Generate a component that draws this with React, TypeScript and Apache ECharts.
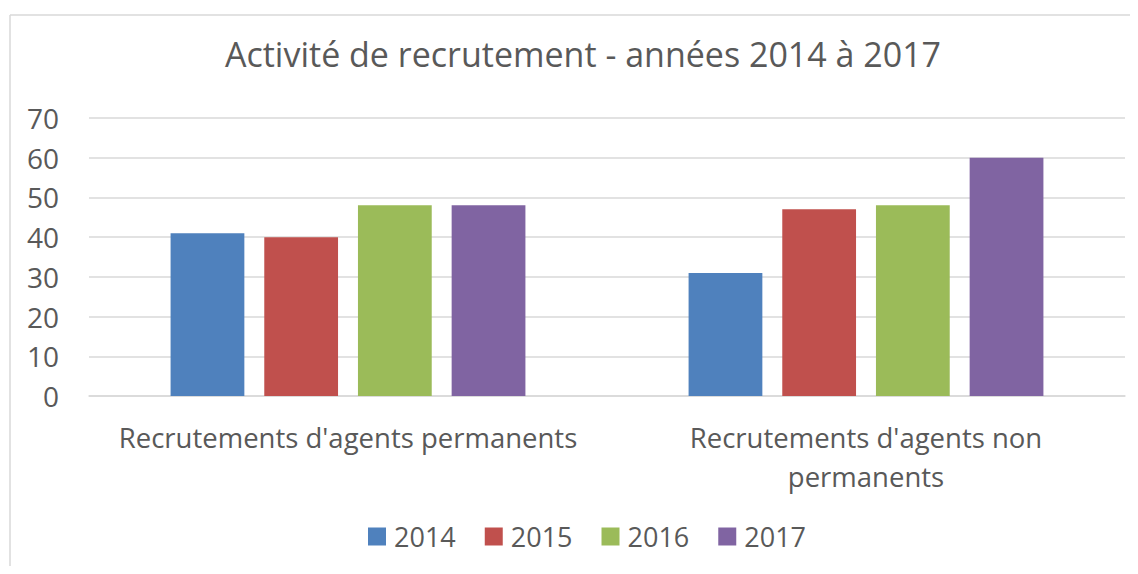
import React, { useEffect, useRef } from "react";
import * as echarts from "echarts";

const categories = ["Recrutements d'agents permanents", "Recrutements d'agents non\npermanents"];
const years = ["2014", "2015", "2016", "2017"];
const values2014 = [41, 31];
const values2015 = [40, 47];
const values2016 = [48, 48];
const values2017 = [48, 60];
const colors = ["#4F81BD", "#C0504D", "#9BBB59", "#8064A2"];
const FONT = "'Open Sans', sans-serif";

export default function App() {
  const ref = useRef<HTMLDivElement>(null);
  useEffect(() => {
    if (!ref.current) return;
    const chart = echarts.init(ref.current, null, { renderer: "svg" });
    const seriesValues = [values2014, values2015, values2016, values2017];
    chart.setOption({
      animation: false,
      textStyle: { fontFamily: FONT, color: "#595959" },
      title: {
        text: "Activité de recrutement - années 2014 à 2017",
        left: 578,
        textAlign: "center",
        top: 32,
        textStyle: { fontFamily: FONT, fontSize: 34, fontWeight: "normal", color: "#595959" },
      },
      graphic: [
        { type: "line", shape: { x1: 10, y1: 15, x2: 1138, y2: 15 }, style: { stroke: "#D9D9D9", lineWidth: 1.5 } },
        { type: "line", shape: { x1: 10, y1: 15, x2: 10, y2: 574 }, style: { stroke: "#D9D9D9", lineWidth: 1.5 } },
      ],
      legend: {
        top: 518,
        left: 363,
        itemWidth: 18,
        itemHeight: 18,
        itemGap: 29,
        icon: "rect",
        textStyle: { fontFamily: FONT, fontSize: 27, color: "#595959", padding: [0, 0, 0, 3] },
        data: years,
      },
      grid: { left: 89, right: 13, top: 118, bottom: 178 },
      xAxis: {
        type: "category",
        data: categories,
        axisLine: { lineStyle: { color: "#D9D9D9", width: 1.5 } },
        axisTick: { show: false },
        axisLabel: { interval: 0, fontFamily: FONT, fontSize: 27.5, color: "#595959", margin: 22, lineHeight: 39 },
      },
      yAxis: {
        type: "value",
        min: 0,
        max: 70,
        interval: 10,
        axisLine: { show: false },
        axisTick: { show: false },
        splitLine: { lineStyle: { color: "#D9D9D9", width: 1.5 } },
        axisLabel: { fontFamily: FONT, fontSize: 28, color: "#595959", margin: 30 },
      },
      series: years.map((y, i) => ({
        name: y,
        type: "bar",
        data: seriesValues[i],
        itemStyle: { color: colors[i] },
        barGap: "27%",
        barCategoryGap: "31.5%",
      })),
    });
    return () => chart.dispose();
  }, []);
  return <div ref={ref} style={{ width: 1138, height: 574, margin: -8 }} />;
}
